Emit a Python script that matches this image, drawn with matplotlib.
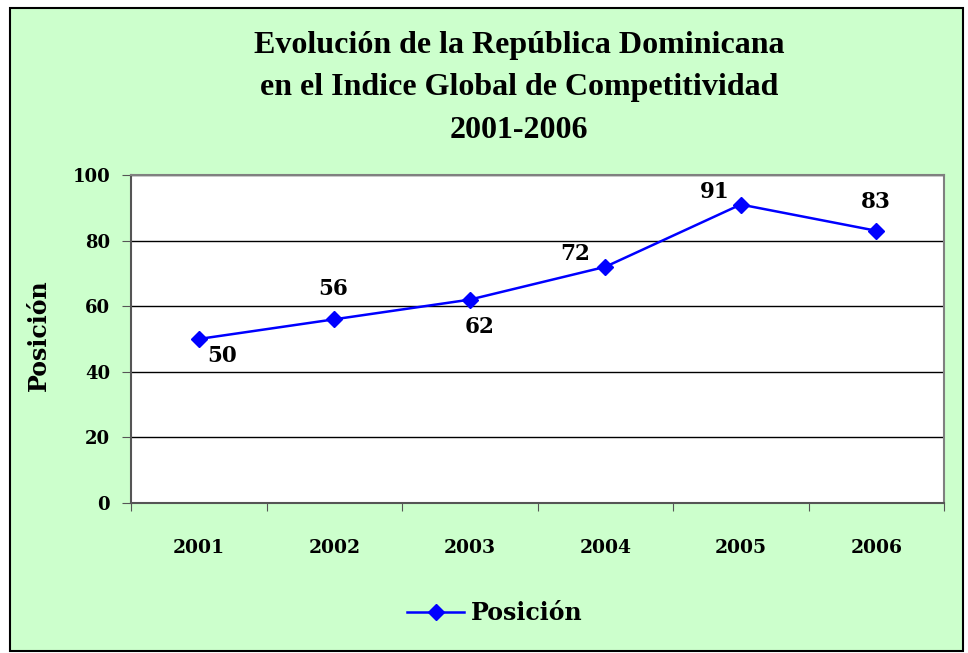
import matplotlib
matplotlib.use("Agg")
import matplotlib.pyplot as plt
from matplotlib.patches import Rectangle

years = ["2001", "2002", "2003", "2004", "2005", "2006"]
posicion = [50, 56, 62, 72, 91, 83]
label_offsets = [(17, -12), (-1, 22), (7, -20), (-22, 9), (-19, 9), (0, 21)]
yticks = [0, 20, 40, 60, 80, 100]

W, H = 968, 653
fig = plt.figure(figsize=(W / 100, H / 100), dpi=100)
fig.patch.set_facecolor("white")
fig.add_artist(Rectangle((10 / W, 2 / H), 953 / W, (H - 10) / H, transform=fig.transFigure,
                         facecolor="#CCFFCC", edgecolor="black", linewidth=1.5, zorder=-10))

ax = fig.add_axes([131 / W, 1 - 503 / H, (944 - 131) / W, (503 - 175) / H])
ax.set_facecolor("white")
x = list(range(len(years)))
ax.plot(x, posicion, color="#0000FF", linewidth=1.8, marker="D", markersize=8,
        markerfacecolor="#0000FF", markeredgecolor="#0000FF", label="Posición")
ax.set_xlim(-0.5, len(years) - 0.5)
ax.set_ylim(0, 100)
ax.set_yticks(yticks)
ax.set_yticklabels([str(v) for v in yticks], fontfamily="DejaVu Serif", fontweight="bold", fontsize=13)
ax.set_xticks([i - 0.5 for i in range(len(years) + 1)])
ax.set_xticklabels([])
ax.set_xticks(x, minor=True)
ax.set_xticklabels(years, minor=True, fontfamily="DejaVu Serif", fontweight="bold", fontsize=13.5)
ax.tick_params(axis="x", which="minor", length=0, pad=26)
ax.tick_params(axis="x", which="major", length=6, direction="out", color="#555555")
ax.tick_params(axis="y", length=6.5, direction="out", color="#555555", pad=8.5)
ax.grid(axis="y", color="black", linewidth=1)
ax.set_axisbelow(True)
for s in ax.spines.values():
    s.set_color("#808080")
    s.set_linewidth(1.5)
ax.spines["left"].set_color("#555555")
ax.spines["bottom"].set_color("#555555")

for xi, v, (dx, dy) in zip(x, posicion, label_offsets):
    ax.annotate(str(v), (xi, v), xytext=(dx, dy), textcoords="offset points",
                ha="center", va="center", fontfamily="DejaVu Serif", fontweight="bold", fontsize=15.5)

ax.set_ylabel("Posición", fontfamily="DejaVu Serif", fontweight="bold", fontsize=17)
ax.yaxis.set_label_coords((51 - 131) / (944 - 131), 0.513)

title_lines = ["Evolución de la República Dominicana", "en el Indice Global de Competitividad", "2001-2006"]
for yy, t in zip([45, 87, 131], title_lines):
    fig.text(519 / W, 1 - yy / H, t, ha="center", va="center",
             fontfamily="Liberation Serif", fontweight="bold", fontsize=23)

leg = fig.legend(loc="center", bbox_to_anchor=(495 / W, 1 - 613 / H), frameon=False,
                 prop={"family": "DejaVu Serif", "weight": "bold", "size": 17},
                 handlelength=2.4, handletextpad=0.3)

fig.savefig("out.png", dpi=100)
